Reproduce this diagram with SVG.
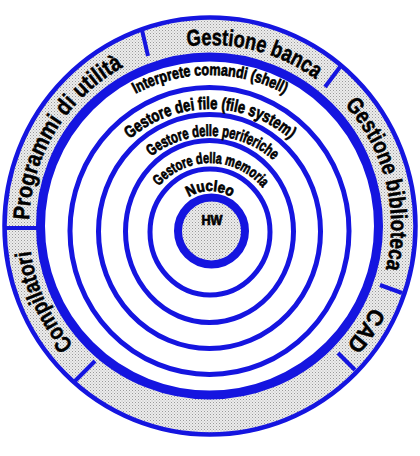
<svg xmlns="http://www.w3.org/2000/svg" width="420" height="456" viewBox="0 0 420 456">
  <defs>
    <pattern id="dots" width="3" height="3" patternUnits="userSpaceOnUse">
      <rect width="3" height="3" fill="#ececec"/>
      <rect x="0" y="0" width="1" height="1" fill="#9a9a9a"/>
      <rect x="1.5" y="1.5" width="1" height="1" fill="#b4b4b4"/>
    </pattern>
    <path id="outerArc" d="M210,407 A181,181 0 1 1 210,45 A181,181 0 1 1 210,407"/>
    <path id="arcShell" d="M54,231 A156,156 0 0 1 366,231"/>
    <path id="arcFile" d="M88,231 A122,122 0 0 1 332,231"/>
    <path id="arcPer" d="M115,231 A95,95 0 0 1 305,231"/>
    <path id="arcMem" d="M142,231 A68,68 0 0 1 278,231"/>
    <path id="arcNuc" d="M170,231 A40,40 0 0 1 250,231"/>
    <style>
      .ring { fill: none; stroke: #1515e0; stroke-width: 5; }
      .sep { stroke: #1515e0; stroke-width: 4; fill: none; }
      .outer { font-family: "Liberation Sans", Arial, sans-serif; font-weight: bold; font-size: 23px; fill: #000; stroke: #000; stroke-width: 0.5; }
      .inner { font-family: "Liberation Sans", Arial, sans-serif; font-weight: bold; fill: #000; stroke: #000; stroke-width: 0.7; }
    </style>
  </defs>
  <rect width="420" height="456" fill="#fff"/>

  <g id="applicazioni">
    <ellipse cx="210" cy="226" rx="205.5" ry="208.5" fill="url(#dots)" stroke="#1515e0" stroke-width="4.5"/>
  </g>
  <g id="shell">
    <ellipse cx="209.5" cy="226" rx="169" ry="169" fill="#fff" stroke="#1515e0" stroke-width="9"/>
  </g>

  <g id="separatori">
    <line class="sep" x1="142" y1="30" x2="148" y2="56"/>
    <line class="sep" x1="340" y1="67" x2="325" y2="87"/>
    <line class="sep" x1="402" y1="293" x2="380" y2="285"/>
    <line class="sep" x1="355" y1="370" x2="338" y2="353"/>
    <line class="sep" x1="75" y1="381" x2="95" y2="361"/>
    <line class="sep" x1="5" y1="228" x2="39" y2="228"/>
  </g>

  <g id="file-system">
    <ellipse class="ring" cx="209.5" cy="231" rx="139.5" ry="143.5"/>
  </g>
  <g id="periferiche">
    <ellipse class="ring" cx="209.5" cy="231.5" rx="111" ry="117"/>
  </g>
  <g id="memoria">
    <ellipse class="ring" cx="209.5" cy="231.5" rx="84" ry="91"/>
  </g>
  <g id="nucleo">
    <ellipse class="ring" cx="210" cy="232" rx="60" ry="63"/>
  </g>
  <g id="hw">
    <circle cx="211.5" cy="231" r="33.5" fill="url(#dots)" stroke="#1515e0" stroke-width="8"/>
    <text class="inner" x="212" y="225" font-size="14" text-anchor="middle" textLength="21" lengthAdjust="spacingAndGlyphs">HW</text>
  </g>

  <g id="etichette-applicazioni">
    <text class="outer"><textPath href="#outerArc" startOffset="53.97%" text-anchor="middle" textLength="136" lengthAdjust="spacingAndGlyphs">Gestione banca</textPath></text>
    <text class="outer"><textPath href="#outerArc" startOffset="71.1%" text-anchor="middle" textLength="176" lengthAdjust="spacingAndGlyphs">Gestione biblioteca</textPath></text>
    <text class="outer"><textPath href="#outerArc" startOffset="84.4%" text-anchor="middle" textLength="46" lengthAdjust="spacingAndGlyphs">CAD</textPath></text>
    <text class="outer"><textPath href="#outerArc" startOffset="18.2%" text-anchor="middle" textLength="105" lengthAdjust="spacingAndGlyphs">Compilatori</textPath></text>
    <text class="outer"><textPath href="#outerArc" startOffset="33.8%" text-anchor="middle" textLength="188" lengthAdjust="spacingAndGlyphs">Programmi di utilità</textPath></text>
  </g>

  <g id="etichette-livelli">
    <text class="inner" font-size="16"><textPath href="#arcShell" startOffset="50%" text-anchor="middle" textLength="155" lengthAdjust="spacingAndGlyphs">Interprete comandi (shell)</textPath></text>
    <text class="inner" font-size="17"><textPath href="#arcFile" startOffset="50%" text-anchor="middle" textLength="175" lengthAdjust="spacingAndGlyphs">Gestore dei file (file system)</textPath></text>
    <text class="inner" font-size="16"><textPath href="#arcPer" startOffset="51%" text-anchor="middle" textLength="133" lengthAdjust="spacingAndGlyphs">Gestore delle periferiche</textPath></text>
    <text class="inner" font-size="15"><textPath href="#arcMem" startOffset="50.5%" text-anchor="middle" textLength="118" lengthAdjust="spacingAndGlyphs">Gestore della memoria</textPath></text>
    <text class="inner" font-size="15"><textPath href="#arcNuc" startOffset="50%" text-anchor="middle" textLength="45" lengthAdjust="spacingAndGlyphs">Nucleo</textPath></text>
  </g>
</svg>
